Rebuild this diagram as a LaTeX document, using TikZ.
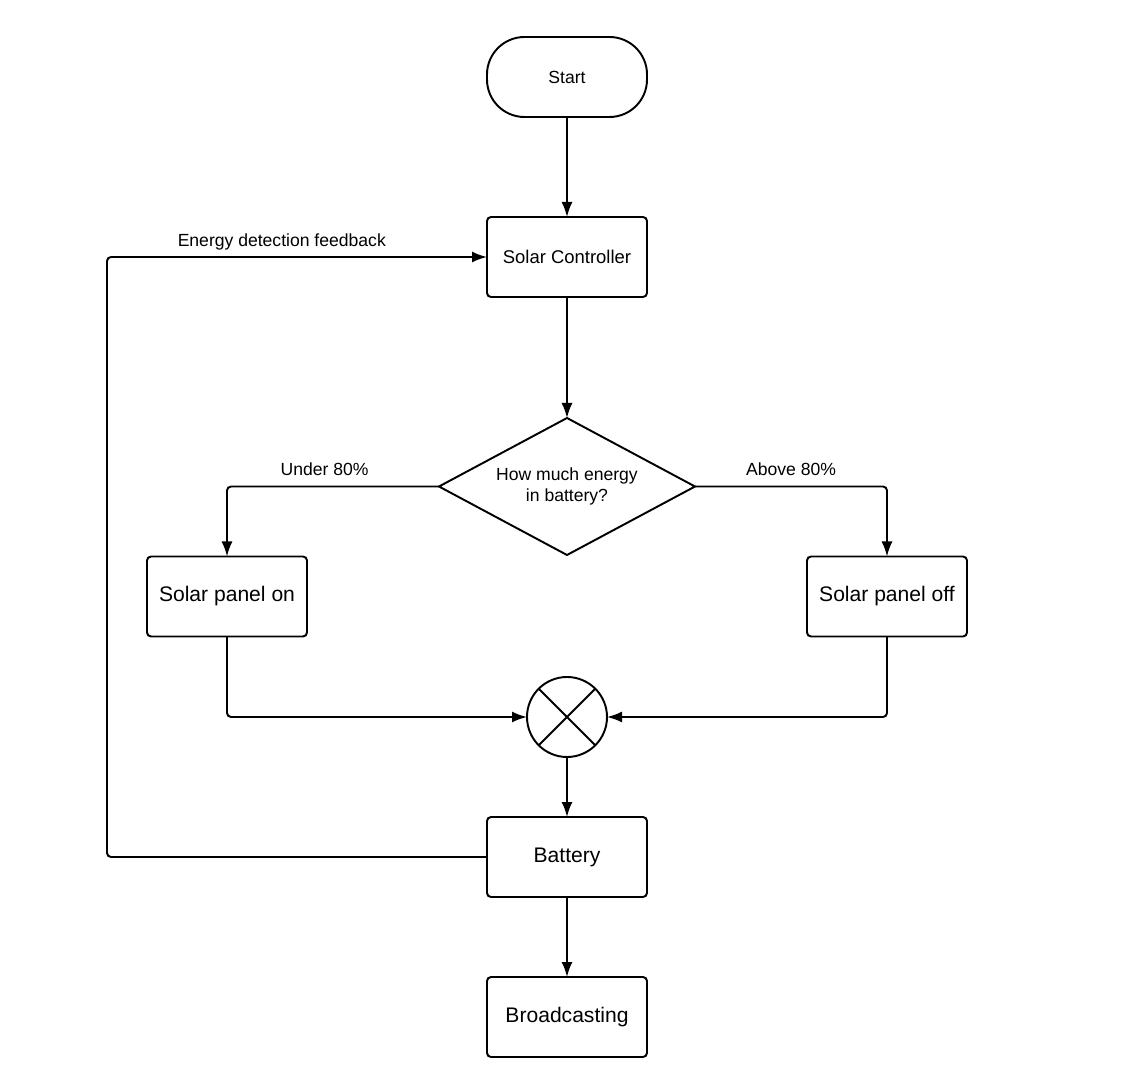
\documentclass[tikz,border=0pt]{standalone}
\usepackage{fontspec}
\setmainfont{Liberation Sans}
\usepackage{tikz}
\usetikzlibrary{shapes.geometric, arrows.meta, positioning}

\begin{document}
\begin{tikzpicture}[
    box/.style={rectangle, rounded corners=0.08cm, draw, line width=1.1pt, outer sep=0pt,
                inner sep=2pt, minimum width=3.2cm, minimum height=1.6cm, text centered},
    terminal/.style={rectangle, rounded corners=0.75cm, draw, line width=1.1pt, outer sep=0pt,
                minimum width=3.2cm, minimum height=1.6cm, text centered},
    decision/.style={diamond, draw, line width=1.1pt, inner sep=0pt, outer sep=0pt, aspect=1.87,
                minimum width=5.12cm, minimum height=2.74cm, align=center},
    mixer/.style={circle, draw, line width=1.1pt, minimum size=1.6cm, inner sep=0pt, outer sep=0pt},
    arrow/.style={-{Latex[length=0.3cm, width=0.22cm]}, line width=1.1pt, rounded corners=0.08cm},
    smalltxt/.style={font=\fontsize{10}{12}\selectfont},
    bigtxt/.style={font=\fontsize{12}{14.4}\selectfont}
]
\useasboundingbox (0,0) rectangle (22.6,-21.46);

% Nodes
\node[terminal, smalltxt] (start) at (11.34,-1.54) {Start};
\node[box, font=\fontsize{10.5}{12.6}\selectfont, below=2cm of start] (ctrl) {Solar Controller};
\node[decision, smalltxt, below=2.42cm of ctrl] (q) {How much energy\\in battery?};
\node[box, bigtxt, xshift=-6.8cm, yshift=-2.2cm] (on) at (q.center) {Solar panel on};
\node[box, bigtxt, xshift=6.4cm, yshift=-2.2cm] (off) at (q.center) {Solar panel off};
\node[mixer, below=2.44cm of q] (mix) {};
\draw[line width=1.1pt] (mix.45) -- (mix.225) (mix.135) -- (mix.-45);
\node[box, bigtxt, below=1.2cm of mix] (bat) {Battery};
\node[box, bigtxt, below=1.6cm of bat] (bc) {Broadcasting};

% Connectors
\draw[arrow] (start) -- (ctrl);
\draw[arrow] (ctrl) -- (q);
\draw[arrow] (q.west) -| node[above, yshift=2pt, pos=0.27, smalltxt]{Under 80\%} (on);
\draw[arrow] (q.east) -| node[above, yshift=2pt, pos=0.25, smalltxt]{Above 80\%} (off);
\draw[arrow] (on) |- (mix);
\draw[arrow] (off) |- (mix);
\draw[arrow] (mix) -- (bat);
\draw[arrow] (bat) -- (bc);
\draw[arrow] (bat.west) -- ++(-7.6,0) |- node[above, pos=0.73, smalltxt]{Energy detection feedback} (ctrl.west);
\end{tikzpicture}
\end{document}
